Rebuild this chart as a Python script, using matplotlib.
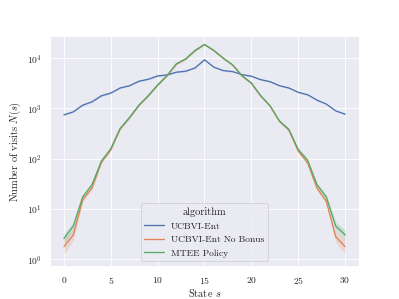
import matplotlib
matplotlib.use("Agg")
import matplotlib.pyplot as plt
import seaborn as sns
import numpy as np

states = list(range(31))
ucbvi_ent = [745, 855, 1160, 1355, 1785, 2020, 2550, 2830, 3470, 3800, 4420, 4630, 5250, 5500, 6400,
             9250, 6600, 5650, 5400, 4700, 4370, 3730, 3400, 2830, 2550, 2090, 1870, 1465, 1220, 895, 770]
mtee = [2.6, 4.6, 17.4, 30.6, 90, 158, 400, 660, 1160, 1790, 2920, 4490, 7690, 9680, 14200,
        18700, 14200, 10000, 7350, 4490, 3200, 1790, 1130, 565, 385, 153, 94, 30.6, 17.4, 4.6, 3.06]
ucbvi_nobonus = [1.79, 3.06, 15.3, 26.3, 85, 150, 390, 650, 1140, 1770, 2900, 4450, 7600, 9600, 14100,
                 18600, 14100, 9900, 7250, 4420, 3150, 1760, 1110, 550, 370, 142, 83, 26.3, 14.2, 2.83, 1.79]
# confidence band half-widths (multiplicative)
band_nobonus = [1.4, 1.3, 1.12, 1.1, 1.06, 1.05, 1.04, 1.04, 1.03, 1.03, 1.03, 1.03, 1.03, 1.03, 1.03,
                1.03, 1.03, 1.03, 1.03, 1.03, 1.03, 1.03, 1.04, 1.04, 1.05, 1.06, 1.08, 1.1, 1.12, 1.3, 1.4]
band_mtee = [1.25, 1.2, 1.1, 1.08, 1.05, 1.04, 1.03, 1.03, 1.03, 1.03, 1.03, 1.03, 1.03, 1.03, 1.03,
             1.03, 1.03, 1.03, 1.03, 1.03, 1.03, 1.03, 1.03, 1.03, 1.04, 1.05, 1.06, 1.08, 1.1, 1.2, 1.25]
band_ent = [1.03] * 31

labels = ["UCBVI-Ent", "UCBVI-Ent No Bonus", "MTEE Policy"]

sns.set_theme(style="darkgrid")
plt.rcParams["font.family"] = ["cmr10", "DejaVu Serif"]
plt.rcParams["mathtext.fontset"] = "cm"
plt.rcParams["axes.formatter.use_mathtext"] = True

fig, ax = plt.subplots(figsize=(6.4, 4.8), dpi=399 / 6.4)
pal = sns.color_palette("deep")
s = np.array(states)
for vals, band, lab, col in [(ucbvi_ent, band_ent, labels[0], pal[0]),
                             (ucbvi_nobonus, band_nobonus, labels[1], pal[1]),
                             (mtee, band_mtee, labels[2], pal[2])]:
    v = np.array(vals, dtype=float)
    b = np.array(band)
    ax.fill_between(s, v / b, v * b, color=col, alpha=0.2, linewidth=0)
    ax.plot(s, v, color=col, label=lab, linewidth=1.5)

ax.set_yscale("log")
ax.set_xlim(-1.5, 31.5)
ax.set_ylim(10 ** -0.134, 10 ** 4.446)
ax.set_xticks([0, 5, 10, 15, 20, 25, 30])
ax.tick_params(axis="x", pad=4)
ax.set_xlabel("State $s$", labelpad=1)
ax.set_ylabel("Number of visits $N(s)$")
ax.legend(title="algorithm", loc="lower center")
fig.savefig("out.png", dpi=399 / 6.4)
